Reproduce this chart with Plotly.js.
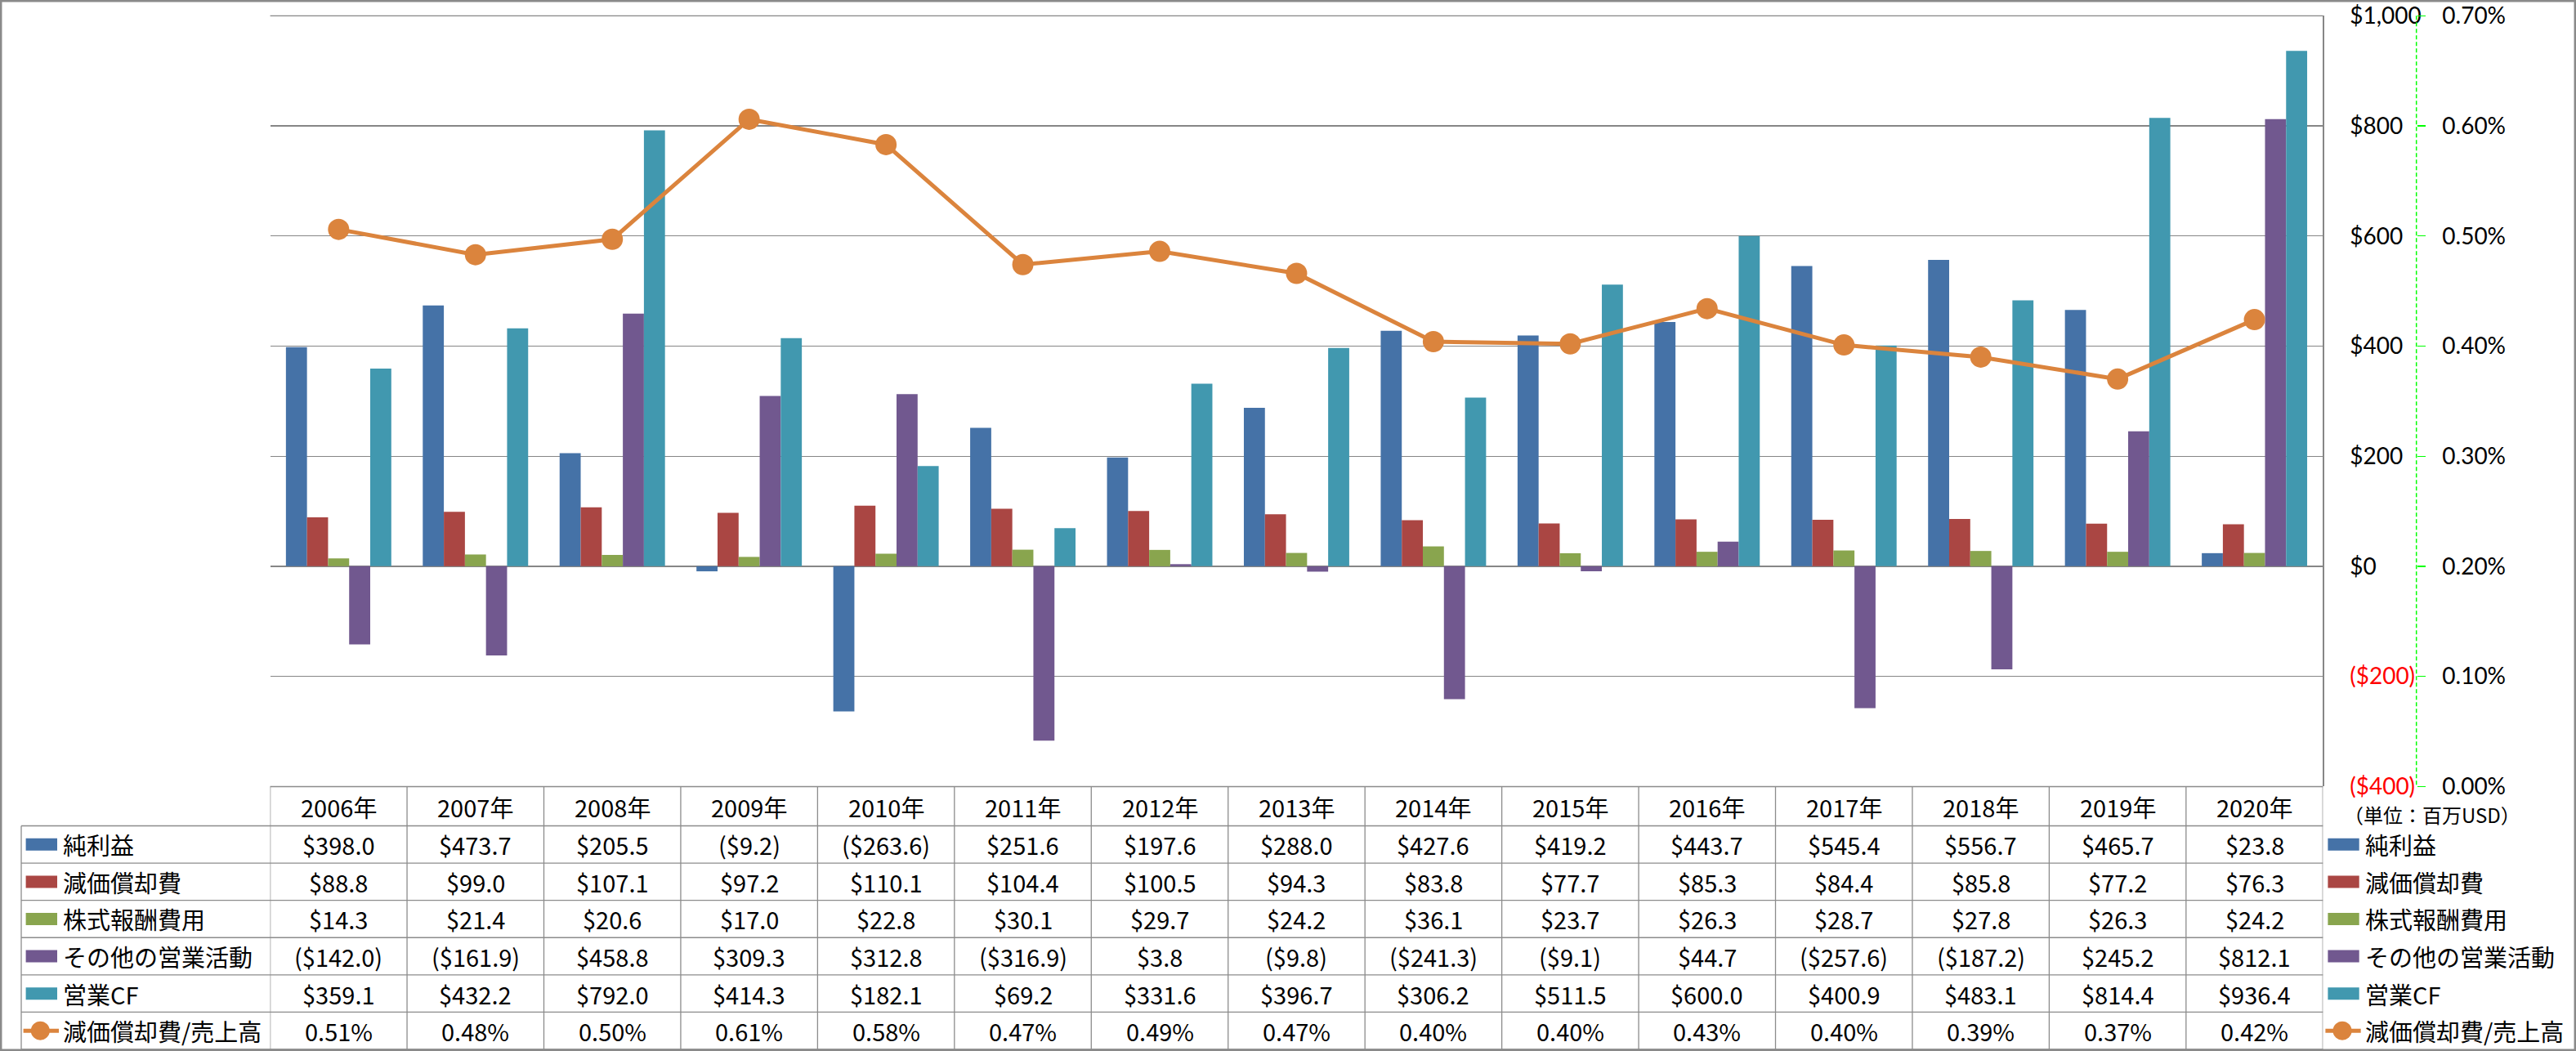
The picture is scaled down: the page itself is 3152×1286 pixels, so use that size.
<!DOCTYPE html>
<html><head><meta charset="utf-8">
<script src="https://cdn.plot.ly/plotly-3.0.1.min.js"></script>
<style>html,body{margin:0;padding:0;background:#fff;}</style>
</head><body>
<div id="chart" style="width:3152px;height:1286px"></div>
<script>
// ---- data ----
const years = ['2006年','2007年','2008年','2009年','2010年','2011年','2012年','2013年','2014年','2015年','2016年','2017年','2018年','2019年','2020年'];
const netIncome    = [398.0, 473.7, 205.5, -9.2, -263.6, 251.6, 197.6, 288.0, 427.6, 419.2, 443.7, 545.4, 556.7, 465.7, 23.8];
const depreciation = [88.8, 99.0, 107.1, 97.2, 110.1, 104.4, 100.5, 94.3, 83.8, 77.7, 85.3, 84.4, 85.8, 77.2, 76.3];
const stockComp    = [14.3, 21.4, 20.6, 17.0, 22.8, 30.1, 29.7, 24.2, 36.1, 23.7, 26.3, 28.7, 27.8, 26.3, 24.2];
const otherOps     = [-142.0, -161.9, 458.8, 309.3, 312.8, -316.9, 3.8, -9.8, -241.3, -9.1, 44.7, -257.6, -187.2, 245.2, 812.1];
const operatingCF  = [359.1, 432.2, 792.0, 414.3, 182.1, 69.2, 331.6, 396.7, 306.2, 511.5, 600.0, 400.9, 483.1, 814.4, 936.4];
const deprRatio    = [0.506, 0.483, 0.497, 0.606, 0.583, 0.474, 0.486, 0.466, 0.404, 0.402, 0.434, 0.401, 0.390, 0.370, 0.424]; // %
const seriesNames  = ['純利益','減価償却費','株式報酬費用','その他の営業活動','営業CF','減価償却費/売上高'];
const yTickVals    = [-400, -200, 0, 200, 400, 600, 800, 1000];
const y2TickVals   = [0, 0.1, 0.2, 0.3, 0.4, 0.5, 0.6, 0.7];
const unitNote     = '（単位：百万USD）';

// ---- styling / geometry ----
const W = 3152, H = 1286;
const px = x => x / W;
const py = y => 1 - y / H;
const FONT = "'Noto Sans CJK JP', 'Noto Sans', sans-serif";
const TICKFONT = "Lato, 'Noto Sans', sans-serif";
const barColors = ['#4572A7', '#AA4643', '#89A54E', '#71588F', '#4198AF'];
const lineColor = '#DB843D';
const gridColor = '#868686';
const tableLine = '#8c8c8c';

const plotL = 330.6, plotR = 2842.3, plotT = 19.3, plotB = 962.3;
const tabTop = 962.5, headBot = 1010.5, tabBot = 1284, tabLeft = 26;
const rowH = (tabBot - headBot) / 6;

const money = v => v < 0 ? '($' + Math.abs(v).toFixed(1) + ')' : '$' + v.toFixed(1);
const pct = v => v.toFixed(2) + '%';
const yTickText = yTickVals.map(v => v < 0
  ? '<span style="color:#FF0000">($' + Math.abs(v).toLocaleString('en-US') + ')</span>'
  : '$' + v.toLocaleString('en-US'));
const y2TickText = y2TickVals.map(pct);

const barSeries = [netIncome, depreciation, stockComp, otherOps, operatingCF];
const traces = barSeries.map((vals, i) => ({
  type: 'bar', x: years, y: vals, name: seriesNames[i],
  marker: {color: barColors[i], line: {width: 0}}, xaxis: 'x', yaxis: 'y', hoverinfo: 'x+y+name'
}));
traces.push({
  type: 'scatter', mode: 'lines+markers', x: years, y: deprRatio, name: seriesNames[5],
  xaxis: 'x', yaxis: 'y2', line: {color: lineColor, width: 5},
  marker: {color: lineColor, size: 26}
});

// ---- table (annotations + shapes) ----
const annotations = [];
const shapes = [];
years.forEach(yr => annotations.push({
  x: yr, xref: 'x', y: py((tabTop + headBot) / 2), yref: 'paper', text: yr, showarrow: false,
  xanchor: 'center', yanchor: 'middle', font: {family: FONT, size: 29, color: '#000'}
}));
const rowVals = [netIncome.map(money), depreciation.map(money), stockComp.map(money),
                 otherOps.map(money), operatingCF.map(money), deprRatio.map(pct)];
rowVals.forEach((row, r) => {
  const yc = py(headBot + rowH * (r + 0.5));
  row.forEach((t, i) => annotations.push({
    x: years[i], xref: 'x', y: yc, yref: 'paper', text: t, showarrow: false,
    xanchor: 'center', yanchor: 'middle', font: {family: FONT, size: 29, color: '#000'}
  }));
  // row labels (left) and legend (right)
  [[75, 31.6, 70], [2892, 2848.4, 2886.7]].forEach(([tx, k0, k1]) => {
    annotations.push({
      x: px(tx), xref: 'paper', y: yc, yref: 'paper', text: seriesNames[r], showarrow: false,
      xanchor: 'left', yanchor: 'middle', font: {family: FONT, size: 29, color: '#000'}
    });
    const ycp = headBot + rowH * (r + 0.5);
    if (r < 5) {
      shapes.push({type: 'rect', xref: 'paper', yref: 'paper', x0: px(k0), x1: px(k1),
        y0: py(ycp - 7.5), y1: py(ycp + 7.5), fillcolor: barColors[r], line: {width: 0}});
    } else {
      const cx = (k0 + k1) / 2 - 1.5;
      shapes.push({type: 'line', xref: 'paper', yref: 'paper', x0: px(k0 - 3), x1: px(k1 + 2),
        y0: py(ycp), y1: py(ycp), line: {color: lineColor, width: 5}});
      shapes.push({type: 'circle', xref: 'paper', yref: 'paper', x0: px(cx - 11.5), x1: px(cx + 11.5),
        y0: py(ycp - 11.5), y1: py(ycp + 11.5), fillcolor: lineColor, line: {width: 0}});
    }
  });
});
// table grid lines
for (let k = 0; k <= years.length; k++) {
  shapes.push({type: 'line', xref: 'x', yref: 'paper', x0: k - 0.5, x1: k - 0.5,
    y0: py(tabTop), y1: py(tabBot), line: {color: tableLine, width: 1.3}});
}
shapes.push({type: 'line', xref: 'paper', yref: 'paper', x0: px(tabLeft), x1: px(tabLeft),
  y0: py(headBot), y1: py(tabBot), line: {color: tableLine, width: 1.3}});
shapes.push({type: 'line', xref: 'paper', yref: 'paper', x0: px(plotL), x1: px(plotR),
  y0: py(tabTop), y1: py(tabTop), line: {color: tableLine, width: 1.3}});
for (let r = 0; r <= 6; r++) {
  const yy = headBot + rowH * r;
  shapes.push({type: 'line', xref: 'paper', yref: 'paper', x0: px(tabLeft), x1: px(plotR),
    y0: py(yy), y1: py(yy), line: {color: tableLine, width: 1.3}});
}
// top edge of plot area (gridline at the axis maximum)
shapes.push({type: 'line', xref: 'paper', yref: 'paper', x0: px(plotL), x1: px(plotR),
  y0: py(plotT), y1: py(plotT), line: {color: gridColor, width: 1.3}, layer: 'below'});
// secondary axis dashed green line
const y2X = 2956.7;
shapes.push({type: 'line', xref: 'paper', yref: 'paper', x0: px(y2X), x1: px(y2X),
  y0: py(plotT), y1: py(plotB), line: {color: '#00FF00', width: 1.5, dash: '5px,3px'}});
// outer chart border
shapes.push({type: 'rect', xref: 'paper', yref: 'paper', x0: px(1.2), x1: px(W - 1.2),
  y0: py(H - 1.2), y1: py(1.2), line: {color: '#8a8a8a', width: 2.5}, fillcolor: 'rgba(0,0,0,0)'});
// unit note
annotations.push({x: px(2866), xref: 'paper', y: py(996), yref: 'paper', text: unitNote,
  showarrow: false, xanchor: 'left', yanchor: 'middle', font: {family: FONT, size: 24, color: '#000'}});

const layout = {
  width: W, height: H, autosize: false,
  margin: {l: 0, r: 0, t: 0, b: 0, pad: 0},
  paper_bgcolor: '#ffffff', plot_bgcolor: '#ffffff',
  font: {family: FONT, size: 29, color: '#000'},
  showlegend: false,
  barmode: 'group', bargap: 0.23, bargroupgap: 0,
  xaxis: {type: 'category', domain: [px(plotL), px(plotR)], range: [-0.5, years.length - 0.5],
    showticklabels: false, showgrid: false, zeroline: false, showline: false, ticks: '', fixedrange: true},
  yaxis: {domain: [py(plotB), py(plotT)], range: [-400, 1000], side: 'right', anchor: 'x',
    tickvals: yTickVals, ticktext: yTickText, ticks: '', ticklabelstandoff: 26,
    ticklabeloverflow: 'allow',
    showgrid: true, gridcolor: gridColor, gridwidth: 1.3, zeroline: false,
    showline: true, linecolor: gridColor, linewidth: 1.3,
    tickfont: {family: TICKFONT, size: 28, color: '#000'}},
  yaxis2: {overlaying: 'y', side: 'right', anchor: 'free', position: px(y2X),
    range: [0, 0.7], tickvals: y2TickVals, ticktext: y2TickText,
    ticks: 'outside', ticklen: 10, tickwidth: 1.3, tickcolor: '#00FF00', ticklabelstandoff: 15,
    ticklabeloverflow: 'allow',
    showgrid: false, zeroline: false, showline: false,
    tickfont: {family: TICKFONT, size: 28, color: '#000'}},
  shapes: shapes,
  annotations: annotations
};

Plotly.newPlot('chart', traces, layout, {staticPlot: true, displayModeBar: false});
</script>
</body></html>
